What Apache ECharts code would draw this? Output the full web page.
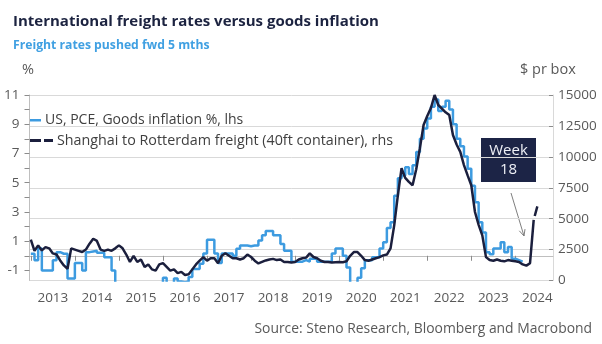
<!DOCTYPE html>
<html><head><meta charset="utf-8">
<script src="https://cdn.jsdelivr.net/npm/echarts@6/dist/echarts.min.js"></script>
<style>html,body{margin:0;padding:0;background:#fff}#c{width:602px;height:344px}</style>
</head><body><div id="c"></div>
<script>
// ---- data ----
const startYear = 2013; // first monthly observation: Jan 2013
const yearLabels = [2013, 2014, 2015, 2016, 2017, 2018, 2019, 2020, 2021, 2022, 2023, 2024];
const leftTickLabels = [-1, 1, 3, 5, 7, 9, 11];
// US PCE goods inflation, % y/y, monthly from Jan 2013
const pceGoods = [
  0.14, -0.3, 0.5, -1.0, -1.0, -1.0, -0.3, 0.25, 0.14, 0.14, -1.55, -1.55,
  -0.5, -0.5, -1.0, 0.25, 0.3, 0.35, 0.2, 0.2, -0.1, -0.1, -1.0, -1.9,
  -2.3, -2.8, -2.6, -2.9, -2.7, -2.6, -2.6, -2.8, -2.9, -2.6, -2.3, -2.1,
  -1.5, -1.9, -1.9, -1.55, -1.75, -1.8, -1.75, -1.45, -0.9, -0.9, -0.55, 0.15,
  1.1, 1.1, 0.15, -0.5, 0.15, 0.15, 0.15, 0.0, 0.48, 0.7, 0.7, 0.65,
  0.7, 0.7, 1.04, 1.4, 1.7, 1.7, 1.4, 1.4, 0.8, 0.35, 0.35, -0.4,
  -0.4, -0.4, -0.3, -0.4, -0.2, -0.2, -0.4, -0.4, -0.4, -0.4, 0.15, 0.5,
  0.5, 0.0, -0.8, -1.9, -1.9, -1.5, -0.85, -0.3, -0.3, -0.1, -0.1, 0.5,
  0.93, 1.9, 2.3, 4.1, 5.3, 5.5, 6.05, 5.6, 6.2, 7.1, 8.0, 8.7,
  9.4, 10.2, 10.7, 9.9, 10.2, 10.6, 10.0, 9.0, 8.0, 7.5, 6.8, 5.95,
  4.8, 3.66, 2.3, 1.6, 0.25, 0.1, 0.5, 0.5, 0.93, 0.25, 0.6, -0.2,
  -0.3, -0.4, -0.4
];
// Shanghai to Rotterdam freight, $ per 40ft box, monthly from Jan 2013 (pushed fwd 5 months)
const freight = [
  3300, 2400, 2840, 2430, 2700, 2600, 2190, 2100, 1620, 1220, 950, 2600,
  2500, 2400, 2300, 2500, 2980, 3380, 3200, 2500, 2400, 2500, 2400, 2600,
  2840, 2600, 2100, 1500, 2000, 1500, 1700, 1100, 1300, 900, 800, 1300,
  1400, 1100, 800, 900, 600, 700, 450, 500, 900, 1300, 1600, 1890,
  1600, 1800, 1800, 1400, 2000, 2200, 2000, 1800, 1800, 1700, 1800, 2100,
  1900, 1600, 1380, 1500, 1620, 1700, 1750, 1650, 1700, 1500, 1500, 1450,
  1500, 1700, 1800, 1850, 2190, 1900, 1800, 1600, 1500, 1500, 1450, 1480,
  1500, 1480, 1550, 2000, 2300, 2300, 2000, 1650, 1600, 1700, 1800, 1890,
  2030, 2100, 2600, 4460, 6900, 9080, 8300, 7970, 7700, 9000, 10700, 12570,
  13300, 13950, 15000, 14190, 13900, 13600, 13380, 11760, 11000, 10400, 9330, 8500,
  7700, 5540, 4500, 3650, 1890, 1650, 1600, 1700, 1600, 1550, 1650, 1600,
  1550, 1500, 1300, 1200, 1400, 4900
];
// latest reading (week 18), drawn dashed from the last monthly point
const freightLatest = [4900, 6000];

// ---- build ----
const monthT = i => startYear + i / 12;
const pceData = pceGoods.map((v, i) => [monthT(i), v]);
const freightData = freight.map((v, i) => [monthT(i), v]);
const latestStart = freight.length - 1;
const freightLatestData = freightLatest.map((v, i) => [monthT(latestStart + i), v]);

const BLUE = '#3d9be0', NAVY = '#1b1f3d', GREY = '#595959', FONT = 'Open Sans';
const chart = echarts.init(document.getElementById('c'), null, {renderer: 'canvas'});

const leftTicks = [];
for (let v = -1; v <= 11; v++) leftTicks.push(v);

chart.setOption({
  animation: false,
  backgroundColor: '#fff',
  textStyle: {fontFamily: FONT},
  title: [
    {text: 'International freight rates versus goods inflation', left: 8, top: 9,
     textStyle: {fontFamily: FONT, fontSize: 15, fontWeight: 'bold', color: '#1c2340'}},
    {text: 'Freight rates pushed fwd 5 mths', left: 8, top: 35,
     textStyle: {fontFamily: FONT, fontSize: 12.2, fontWeight: 'bold', color: '#40a0e2'}},
    {text: 'Source: Steno Research, Bloomberg and Macrobond', right: 5, top: 317,
     textStyle: {fontFamily: FONT, fontSize: 13.9, fontWeight: 'normal', color: GREY}}
  ],
  grid: {left: 29.5, right: 49, top: 95, bottom: 63.5, containLabel: false},
  xAxis: {
    type: 'value', min: 2012.97, max: 2024.855,
    axisLine: {show: true, lineStyle: {color: '#bfbfbf', width: 1}},
    axisTick: {show: true, customValues: yearLabels, length: 5, lineStyle: {color: '#8c8c8c'}},
    axisLabel: {customValues: yearLabels.map(y => y + 0.5), formatter: v => String(Math.floor(v)),
                color: GREY, fontSize: 13.5, fontFamily: FONT, margin: 11},
    splitLine: {show: false}
  },
  yAxis: [
    {type: 'value', position: 'left', min: -1.69, max: 11,
     axisLine: {show: true, lineStyle: {color: '#bfbfbf'}},
     axisTick: {show: true, customValues: leftTicks, length: 5, lineStyle: {color: '#8c8c8c'}},
     axisLabel: {customValues: leftTickLabels, color: GREY, fontSize: 13.5, fontFamily: FONT, margin: 10},
     splitLine: {show: false}},
    {type: 'value', position: 'right', min: 0, max: 15000, interval: 2500,
     axisLine: {show: true, lineStyle: {color: '#d9d9d9'}},
     axisTick: {show: true, inside: true, length: 4, lineStyle: {color: '#8c8c8c'}},
     axisLabel: {color: GREY, fontSize: 13.5, fontFamily: FONT, margin: 5, formatter: v => String(v)},
     splitLine: {show: true, lineStyle: {color: '#d9d9d9', width: 1}}}
  ],
  series: [
    {name: 'US, PCE, Goods inflation %, lhs', type: 'line', step: 'end', yAxisIndex: 0,
     data: pceData, symbol: 'none', clip: true, lineStyle: {color: BLUE, width: 2.5}, z: 2},
    {name: 'Shanghai to Rotterdam freight (40ft container), rhs', type: 'line', yAxisIndex: 1,
     data: freightData, symbol: 'none', clip: true, lineStyle: {color: NAVY, width: 2.5}, z: 3},
    {name: 'latest', type: 'line', yAxisIndex: 1, data: freightLatestData, symbol: 'none',
     lineStyle: {color: NAVY, width: 2.5, type: [0, 4, 10, 10]}, z: 3}
  ],
  graphic: [
    {type: 'text', left: 22, top: 62, style: {text: '%', font: '14.5px "Open Sans"', fill: GREY}},
    {type: 'text', left: 520, top: 62, style: {text: '$ pr box', font: '14.5px "Open Sans"', fill: GREY}},
    // legend
    {type: 'rect', shape: {x: 30, y: 119, width: 11, height: 2.5}, style: {fill: BLUE}},
    {type: 'text', x: 45, y: 120.5, style: {text: 'US, PCE, Goods inflation %, lhs', font: '14px "Open Sans"', fill: '#404040', textVerticalAlign: 'middle'}},
    {type: 'rect', shape: {x: 30, y: 139, width: 11, height: 3}, style: {fill: NAVY}},
    {type: 'rect', shape: {x: 44, y: 139, width: 9, height: 3}, style: {fill: NAVY}},
    {type: 'text', x: 57, y: 141, style: {text: 'Shanghai to Rotterdam freight (40ft container), rhs', font: '14.3px "Open Sans"', fill: '#404040', textVerticalAlign: 'middle'}},
    // annotation
    {type: 'rect', shape: {x: 481, y: 138, width: 55, height: 44}, style: {fill: '#1c2446'}},
    {type: 'text', x: 508.5, y: 160, style: {text: 'Week\n18', font: '15px "Open Sans"', lineHeight: 19, fill: '#eef0f6', textAlign: 'center', textVerticalAlign: 'middle'}},
    {type: 'line', shape: {x1: 511, y1: 193, x2: 524, y2: 236}, style: {stroke: '#7f7f7f', lineWidth: 1}},
    {type: 'polyline', shape: {points: [[519.3, 230.8], [524, 236], [525, 229.1]]}, style: {stroke: '#7f7f7f', lineWidth: 1, fill: null}}
  ]
});
</script></body></html>
